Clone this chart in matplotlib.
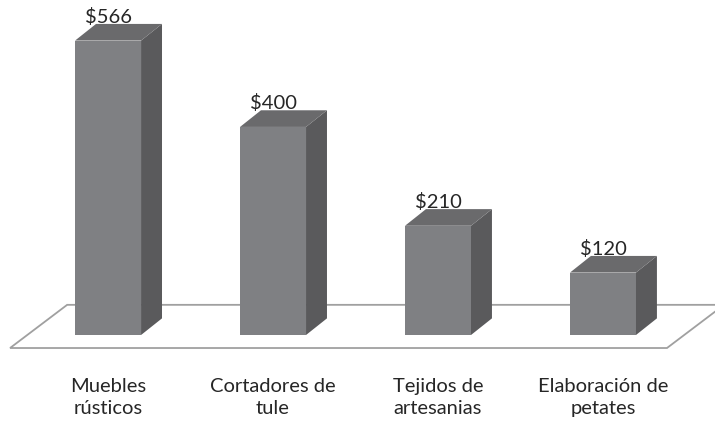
import matplotlib
matplotlib.use('Agg')
import matplotlib.pyplot as plt
from matplotlib.patches import Polygon

plt.rcParams['font.family'] = ['Lato', 'DejaVu Sans']

categories = ["Muebles\nrústicos", "Cortadores de\ntule", "Tejidos de\nartesanias", "Elaboración de\npetates"]
values = [566, 400, 210, 120]
labels = ["$566", "$400", "$210", "$120"]

front_col = "#7f8083"
side_col = "#5a5a5c"
top_col = "#6a6a6c"

w = 0.4        # bar width in category units
dx = 0.127     # depth offset, x
dy = 32        # depth offset, value units

fig = plt.figure(figsize=(7.15, 4.25), dpi=100)
ax = fig.add_axes([0, 0, 1, 1])
ax.set_xlim(-0.655, 3.679)
ax.set_ylim(-173, 644)
ax.axis('off')

# floor
fy0, fy1 = -25, 58
fx0, fx1 = -0.594, 3.388
slant = 0.346
floor = Polygon([(fx0, fy0), (fx1, fy0), (fx1 + slant, fy1), (fx0 + slant, fy1)],
                closed=True, facecolor='white', edgecolor='#a0a0a0', lw=1.3, zorder=1)
ax.add_patch(floor)

for i, v in enumerate(values):
    x0, x1 = i - w / 2, i + w / 2
    ax.bar(i, v, width=w, color=front_col, zorder=3)
    ax.add_patch(Polygon([(x1, 0), (x1 + dx, dy), (x1 + dx, v + dy), (x1, v)],
                         closed=True, facecolor=side_col, edgecolor='none', zorder=3))
    ax.add_patch(Polygon([(x0, v), (x1, v), (x1 + dx, v + dy), (x0 + dx, v + dy)],
                         closed=True, facecolor=top_col, edgecolor='none', zorder=3))
    ax.text(i, v + dy + 2, labels[i], ha='center', va='baseline', fontsize=14.5, color='#262626', zorder=4)
    ax.text(i, -120, categories[i], ha='center', va='center', fontsize=14.5,
            color='#262626', linespacing=1.3)

fig.savefig("out.png", dpi=100)
